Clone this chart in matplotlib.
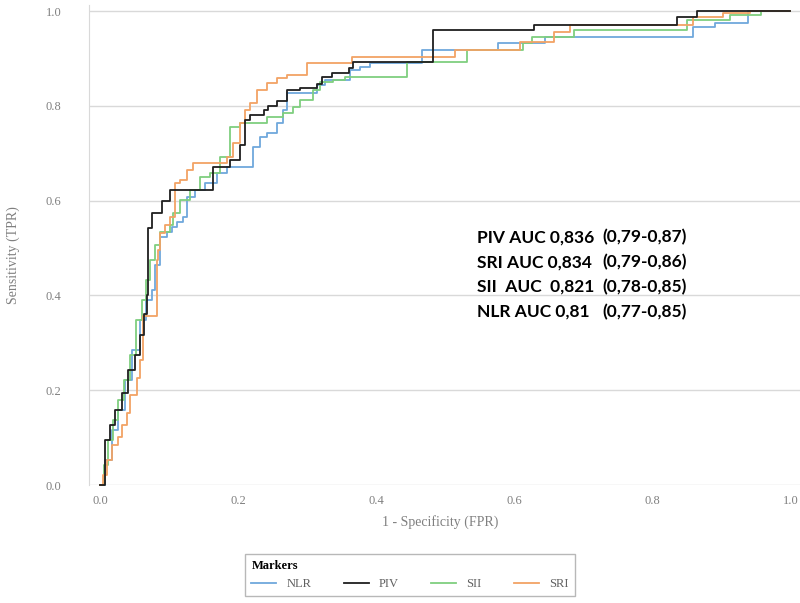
import matplotlib
matplotlib.use("Agg")
import matplotlib.pyplot as plt

# ROC curves: FPR where TPR steps up, and the TPR level after the step
nlr_fpr = [0.0, 0.007, 0.017, 0.026, 0.036, 0.046, 0.058, 0.067, 0.075, 0.08, 0.087,
           0.097, 0.104, 0.112, 0.12, 0.126, 0.138, 0.152, 0.17, 0.184, 0.222, 0.232,
           0.242, 0.257, 0.265, 0.271, 0.314, 0.326, 0.362, 0.377, 0.391, 0.467,
           0.577, 0.645, 0.859, 0.891, 0.939, 1.0]
nlr_tpr = [0.0, 0.053, 0.116, 0.158, 0.222, 0.285, 0.348, 0.39, 0.411, 0.464, 0.523,
           0.534, 0.544, 0.555, 0.565, 0.608, 0.622, 0.637, 0.658, 0.671, 0.713, 0.734,
           0.743, 0.764, 0.791, 0.827, 0.844, 0.854, 0.876, 0.882, 0.89, 0.918,
           0.932, 0.945, 0.966, 0.975, 1.0, 1.0]

piv_fpr = [0.0, 0.007, 0.014, 0.022, 0.032, 0.041, 0.051, 0.058, 0.063, 0.068, 0.07,
           0.075, 0.09, 0.101, 0.164, 0.188, 0.203, 0.21, 0.217, 0.237, 0.243, 0.257,
           0.271, 0.29, 0.314, 0.322, 0.336, 0.36, 0.366, 0.482, 0.628, 0.836, 0.865, 1.0]
piv_tpr = [0.0, 0.095, 0.127, 0.158, 0.194, 0.243, 0.274, 0.316, 0.36, 0.40, 0.542,
           0.574, 0.60, 0.622, 0.671, 0.686, 0.717, 0.77, 0.78, 0.791, 0.80, 0.81,
           0.833, 0.838, 0.845, 0.86, 0.87, 0.88, 0.892, 0.96, 0.97, 0.987, 1.0, 1.0]

sii_fpr = [0.0, 0.006, 0.012, 0.019, 0.026, 0.035, 0.043, 0.052, 0.061, 0.067, 0.072,
           0.08, 0.087, 0.101, 0.106, 0.116, 0.13, 0.145, 0.159, 0.174, 0.188, 0.203,
           0.242, 0.265, 0.28, 0.29, 0.309, 0.319, 0.338, 0.355, 0.445, 0.532, 0.612,
           0.626, 0.686, 0.851, 0.913, 0.957, 1.0]
sii_tpr = [0.0, 0.042, 0.095, 0.137, 0.179, 0.222, 0.274, 0.348, 0.39, 0.432, 0.475,
           0.506, 0.534, 0.549, 0.574, 0.601, 0.622, 0.65, 0.658, 0.692, 0.755, 0.764,
           0.776, 0.785, 0.797, 0.812, 0.833, 0.85, 0.854, 0.861, 0.892, 0.918, 0.932,
           0.945, 0.96, 0.981, 0.992, 1.0, 1.0]

sri_fpr = [0.0, 0.004, 0.01, 0.017, 0.026, 0.032, 0.039, 0.043, 0.054, 0.058, 0.062,
           0.083, 0.084, 0.087, 0.094, 0.101, 0.109, 0.116, 0.126, 0.135, 0.184, 0.193,
           0.203, 0.21, 0.217, 0.228, 0.242, 0.257, 0.271, 0.3, 0.365, 0.514, 0.609,
           0.657, 0.681, 0.859, 0.903, 0.942, 1.0]
sri_tpr = [0.0, 0.021, 0.053, 0.084, 0.101, 0.127, 0.152, 0.19, 0.226, 0.264, 0.357,
           0.475, 0.496, 0.532, 0.549, 0.565, 0.637, 0.643, 0.665, 0.679, 0.692, 0.722,
           0.764, 0.791, 0.806, 0.833, 0.848, 0.859, 0.865, 0.89, 0.903, 0.918, 0.935,
           0.956, 0.97, 0.987, 0.996, 1.0, 1.0]

markers = ["NLR", "PIV", "SII", "SRI"]
colors = ["#6fa8dc", "#1f1f1f", "#7fcf7f", "#f2a365"]

auc_labels = ["PIV AUC 0,836", "SRI AUC 0,834", "SII  AUC  0,821", "NLR AUC 0,81"]
auc_ci = ["(0,79-0,87)", "(0,79-0,86)", "(0,78-0,85)", "(0,77-0,85)"]

fig = plt.figure(figsize=(8, 6.03), dpi=100)
ax = fig.add_axes([89 / 800, 1 - 485 / 603, 1 - 89 / 800, 480 / 603])

curves = [(nlr_fpr, nlr_tpr), (piv_fpr, piv_tpr), (sii_fpr, sii_tpr), (sri_fpr, sri_tpr)]
order = [0, 2, 3, 1]  # black on top
for i in order:
    fpr, tpr = curves[i]
    ax.plot(fpr, tpr, drawstyle="steps-post", color=colors[i], lw=1.3,
            label=markers[i], clip_on=False, zorder=3 + (i == 1))

ax.set_xlim(-0.016, 1.014)
ax.set_ylim(0, 1.0127)
ax.set_xticks([0, 0.2, 0.4, 0.6, 0.8, 1.0])
ax.set_yticks([0, 0.2, 0.4, 0.6, 0.8, 1.0])
ax.set_xticklabels(["0.0", "0.2", "0.4", "0.6", "0.8", "1.0"])
ax.set_yticklabels(["0.0", "0.2", "0.4", "0.6", "0.8", "1.0"])
ax.grid(axis="y", color="#d9d9d9", lw=1)
ax.set_axisbelow(True)
for s in ["top", "right", "bottom"]:
    ax.spines[s].set_visible(False)
ax.spines["left"].set_color("#d9d9d9")
ax.tick_params(length=0, labelsize=9, labelcolor="#808080")
ax.tick_params(axis="y", pad=20)
ax.tick_params(axis="x", pad=7)
for lab in ax.get_xticklabels() + ax.get_yticklabels():
    lab.set_family("Liberation Serif")

ax.set_xlabel("1 - Specificity (FPR)", family="Liberation Serif", fontsize=10, color="#808080")
ax.set_ylabel("Sensitivity (TPR)", family="Liberation Serif", fontsize=10, color="#808080")
ax.xaxis.set_label_coords(0.494, -0.062)
ax.yaxis.set_label_coords(-0.097, 0.48)

text_y = [0.523, 0.470, 0.418, 0.365]
for lab, ci, y in zip(auc_labels, auc_ci, text_y):
    ax.text(0.546, y, lab, fontsize=12.5, fontweight="bold", family="Lato", va="center")
    ax.text(0.727, y, ci, fontsize=12.5, fontweight="bold", family="Lato", va="center")

handles, labels = ax.get_legend_handles_labels()
hmap = dict(zip(labels, handles))
leg = fig.legend([hmap[m] for m in markers], markers, loc="center",
                 bbox_to_anchor=(410 / 800, 1 - 575 / 603), ncol=4, title="Markers",
                 alignment="left", fancybox=False, edgecolor="#a6a6a6",
                 handlelength=2.0, columnspacing=2.6, borderpad=0.5,
                 prop={"family": "Liberation Serif", "size": 9},
                 title_fontproperties={"family": "Liberation Serif", "size": 9, "weight": "bold"})
leg.get_frame().set_linewidth(1.0)
for t in leg.get_texts():
    t.set_color("#606060")

fig.savefig("out.png", dpi=100)
